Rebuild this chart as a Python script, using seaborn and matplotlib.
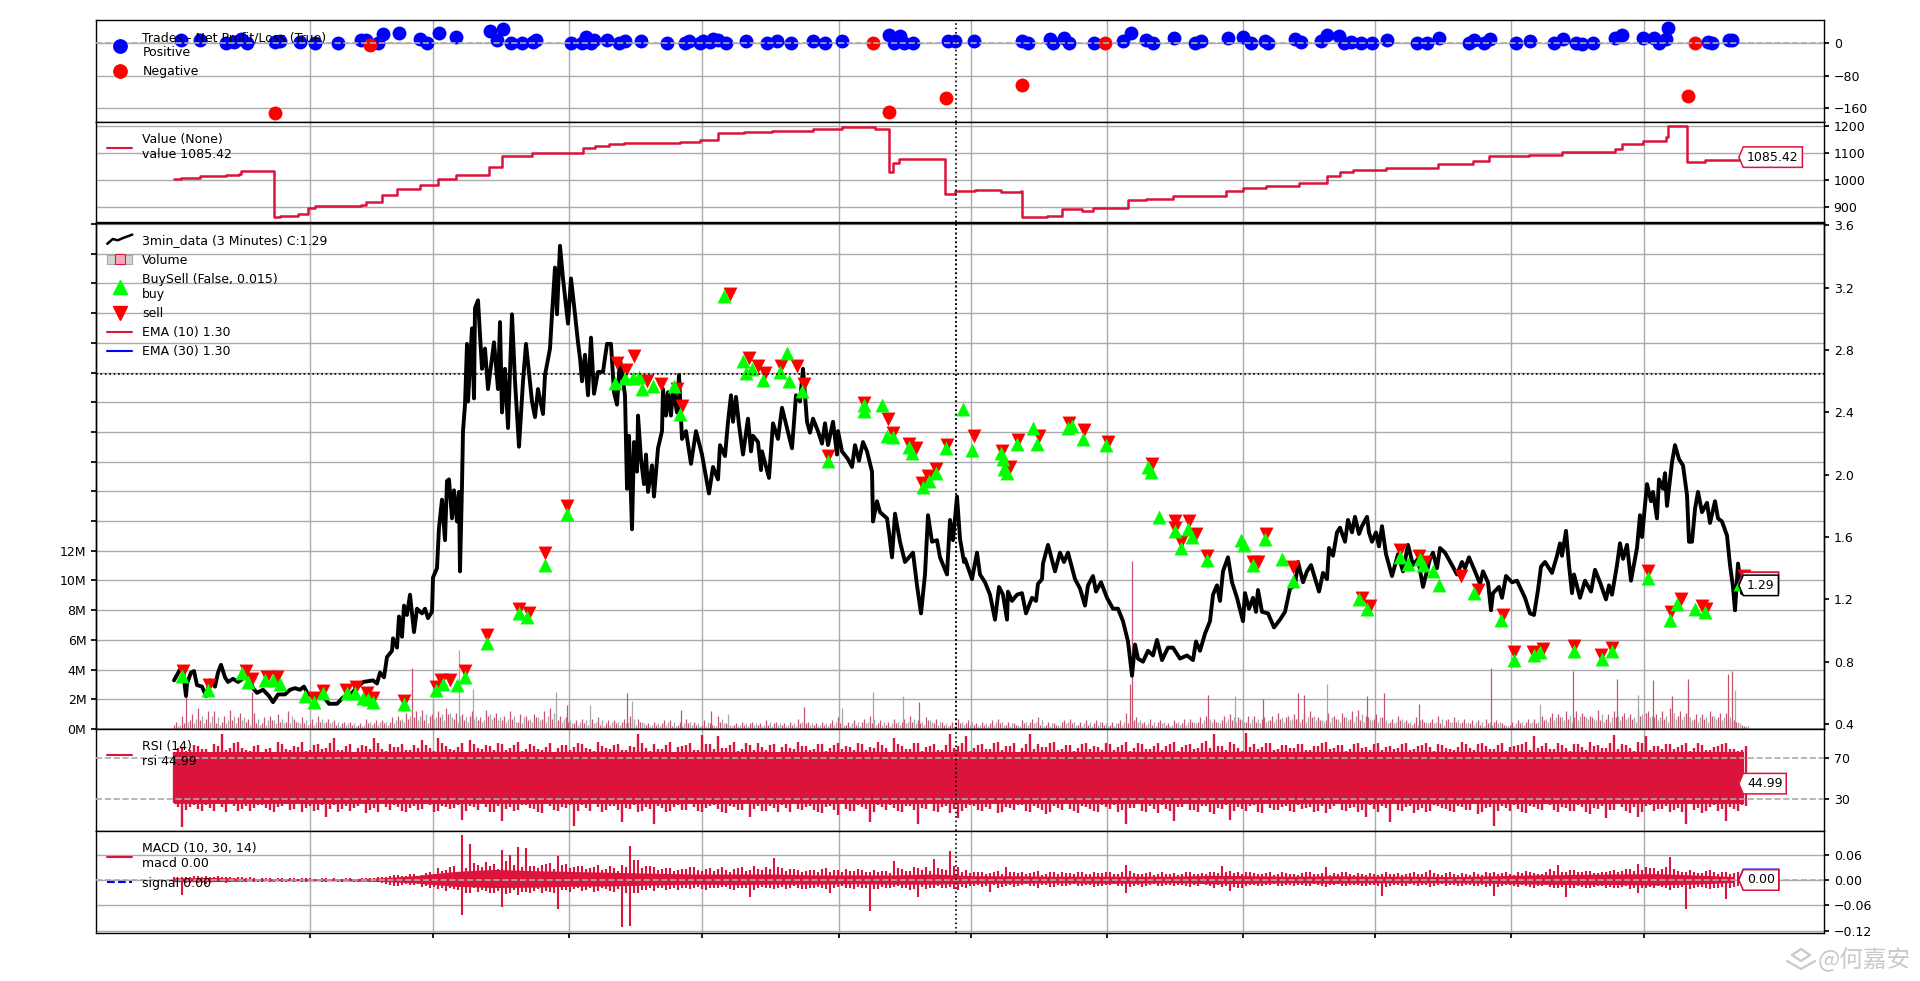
import numpy as np
import matplotlib
matplotlib.use("Agg")
import matplotlib.pyplot as plt
from matplotlib.lines import Line2D
from matplotlib.patches import Patch
from matplotlib.path import Path
from matplotlib.legend_handler import HandlerLine2D
import seaborn as sns

CRIMSON = "#DC143C"
GRID = "#ababab"

close_bar = [0,6,9,12,13,17,20,23,28,32,36,41,44,47,51,54,59,64,71,76,79,83,89,95,99,104,111,116,121,126,130,134,143,149,155,163,169,178,184,189,199,203,206,210,213,218,219,223,225,228,230,233,236,240,243,248,251,254,258,259,263,265,268,271,273,275,278,280,283,285,286,288,289,291,293,294,298,300,301,304,308,311,314,320,324,326,328,331,334,338,341,345,349,352,358,361,364,369,371,376,378,381,383,386,389,394,
397,401,404,406,408,411,414,417,420,424,429,433,437,440,443,446,451,453,455,458,460,463,464,467,470,472,474,478,480,484,488,489,492,494,497,499,503,505,508,512,517,522,528,531,535,539,544,546,551,554,557,559,562,565,569,574,577,579,584,587,588,595,599,604,608,613,618,622,626,629,633,636,639,644,648,651,654,659,663,664,668,674,678,681,685,689,693,698,699,703,706,713,715,718,721,726,731,739,743,747,751,754,758,763,766,773,776,779,783,786,790,
791,798,803,806,811,816,821,825,829,833,834,838,843,848,852,858,862,864,868,869,874,881,886,890,894,901,906,911,914,919,922,927,933,939,944,949,954,958,961,964,969,974,979,983,988,994,999,1006,1013,1019,1022,1026,1031,1036,1039,1043,1046,1049,1054,1058,1063,1069,1071,1075,1079,1082,1084,1088,1094,1100,1106,1111,1116,1121,1124,1129,1133,1137,1145,1149,1153,1155,1159,1163,1166,1171,1174,1178,1181,1185,
1188,1193,1195,1198,1202,1205,1208,1212,1218,1224,1229,1234,1239,1244,1249,1256,1259,1263,1266,1271,1278,1283,1288,1291,1295,1301,1306,1309,1314,1317,1319,1325,1328,1332,1338,1343,1351,1356,1360,1364,1367,1371,1378,1383,1386,1388,1392,1395,1398,1400,1406,1411,1417,1421,1426,1432,1435,1438,1443,1446,1449,1453,1457,1463,1466,1468,1473,1477,1479,1483,1485,1489,1491,1493,1498,1501,1505,1509,1513,1515,1518,1521,1524,1528,1533,1536,1541,1544,1548,1553,1556,1559,1561,1564,1568]
close_price = [.68,.75,.74,.58,.66,.73,.74,.65,.64,.58,.68,.64,.73,.78,.70,.67,.69,.67,.70,.68,.63,.60,.62,.58,.54,.59,.59,.62,.63,.62,.64,.59,.58,.58,.53,.53,.57,.60,.64,.67,.68,.66,.73,.70,.83,.87,.95,.89,1.09,.96,1.16,1.10,1.23,.99,1.14,1.11,1.14,1.08,1.12,1.34,1.40,1.66,1.84,1.58,1.96,1.97,1.72,1.90,1.70,1.89,1.38,1.93,2.28,2.45,2.84,2.47,2.94,2.49,3.07,3.12,2.68,2.81,2.55,2.85,2.55,2.98,2.40,2.68,2.30,3.03,2.60,2.18,2.60,2.84,2.47,2.37,2.55,2.39,2.64,2.81,3.03,3.33,3.03,3.47,3.26,2.97,
3.26,3.03,2.85,2.75,2.60,2.77,2.51,2.88,2.52,2.66,2.66,2.84,2.84,2.53,2.45,2.74,2.51,1.91,2.25,1.65,2.21,2.02,2.38,2.10,1.94,2.13,1.89,2.06,1.86,2.17,2.28,2.55,2.38,2.53,2.38,2.55,2.40,2.64,2.23,2.28,2.07,2.28,2.13,2.02,1.88,2.05,1.97,2.19,2.12,2.34,2.51,2.34,2.50,2.32,2.13,2.36,2.15,2.25,2.21,2.03,2.15,1.98,2.33,2.23,2.43,2.30,2.17,2.51,2.47,2.68,2.34,2.27,2.36,2.28,2.20,2.33,2.19,2.34,2.13,2.28,2.15,2.10,2.05,2.19,2.09,2.21,2.15,2.02,1.70,1.83,1.76,1.72,1.63,1.47,1.75,1.57,1.44,1.50,1.29,1.11,1.36,1.74,1.57,1.58,1.47,1.36,1.71,1.58,1.86,1.59,1.44,
1.46,1.33,1.50,1.36,1.31,1.23,1.07,1.28,1.23,1.07,1.25,1.19,1.23,1.24,1.11,1.21,1.19,1.30,1.33,1.43,1.55,1.38,1.50,1.44,1.50,1.33,1.27,1.16,1.29,1.35,1.25,1.31,1.21,1.14,1.14,1.06,.93,.71,.91,.82,.80,.87,.84,.94,.81,.89,.89,.82,.84,.81,.93,.87,.98,1.06,1.23,1.29,1.19,1.38,1.47,1.31,1.21,1.06,1.24,1.14,1.21,1.12,1.26,1.12,1.11,1.02,1.07,1.12,1.27,1.29,1.44,1.31,1.38,1.42,1.25,1.37,1.33,1.53,1.48,1.63,1.66,1.57,1.71,1.63,1.73,1.62,
1.67,1.73,1.63,1.57,1.63,1.54,1.67,1.49,1.35,1.49,1.38,1.55,1.42,1.46,1.28,1.46,1.50,1.40,1.53,1.50,1.42,1.36,1.44,1.40,1.47,1.38,1.30,1.38,1.31,1.13,1.24,1.28,1.21,1.35,1.31,1.32,1.21,1.11,1.10,1.26,1.41,1.44,1.37,1.48,1.56,1.48,1.64,1.42,1.24,1.36,1.21,1.32,1.25,1.39,1.31,1.20,1.29,1.23,1.42,1.56,1.46,1.55,1.32,1.53,1.74,1.60,1.94,1.83,1.89,1.72,1.97,1.91,2.01,1.80,2.08,2.19,2.10,2.06,1.87,1.57,1.57,1.78,1.89,1.76,1.82,1.69,1.83,1.72,1.70,1.61,1.42,1.28,1.13,1.43,1.24]

buy_bar = [8,34,68,74,91,99,106,131,140,149,173,181,189,194,199,230,262,269,283,291,313,345,353,371,393,550,441,451,459,465,468,479,500,506,569,572,578,589,606,613,615,628,654,690,690,708,713,719,735,738,749,755,762,772,789,798,827,829,830,833,843,859,863,894,898,909,932,974,977,985,1001,1014,1018,1007,1033,1067,1070,1079,1091,1108,1119,1185,1193,1226,1234,1246,1249,1259,1265,1300,1327,1340,1360,1366,1400,1428,1438,1474,1496,1503,1521,1531,1566]
buy_price = [.71,.62,.73,.67,.68,.68,.66,.58,.54,.60,.60,.60,.57,.56,.54,.53,.62,.66,.65,.70,.92,1.11,1.09,1.42,1.75,3.15,2.59,2.62,2.62,2.63,2.55,2.57,2.57,2.39,2.73,2.65,2.68,2.61,2.66,2.78,2.60,2.54,2.09,2.45,2.41,2.45,2.25,2.24,2.18,2.14,1.92,1.96,2.01,2.17,2.42,2.16,2.14,2.10,2.04,2.01,2.20,2.30,2.20,2.30,2.31,2.23,2.19,2.05,2.02,1.73,1.64,1.65,1.60,1.53,1.45,1.58,1.55,1.42,1.59,1.46,1.32,1.20,1.14,1.47,1.43,1.46,1.42,1.38,1.29,1.24,1.07,.81,.84,.86,.87,.82,.87,1.34,1.07,1.17,1.14,1.12,1.30]
sell_bar = [9,35,72,78,93,103,140,149,172,182,193,199,230,262,267,276,291,313,345,355,371,393,556,443,452,460,473,487,503,508,575,584,591,607,623,630,654,690,714,719,735,742,748,754,762,773,800,828,836,844,865,895,910,934,978,1001,1001,1015,1022,1007,1033,1079,1084,1092,1119,1188,1196,1226,1245,1251,1287,1304,1329,1340,1359,1369,1400,1427,1438,1474,1497,1507,1528,1532,1570]
sell_price = [.74,.65,.74,.69,.70,.70,.57,.61,.62,.64,.60,.57,.55,.64,.68,.68,.74,.97,1.14,1.11,1.50,1.80,3.16,2.72,2.67,2.76,2.60,2.58,2.55,2.44,2.75,2.70,2.65,2.70,2.70,2.58,2.12,2.46,2.36,2.27,2.20,2.17,1.95,1.99,2.04,2.19,2.25,2.15,2.05,2.22,2.25,2.33,2.29,2.21,2.07,1.70,1.66,1.70,1.62,1.57,1.48,1.44,1.44,1.62,1.41,1.21,1.16,1.52,1.48,1.44,1.35,1.26,1.10,.86,.86,.88,.90,.84,.89,1.38,1.12,1.20,1.16,1.14,1.35]

win_bar = [7,26,52,60,67,73,101,106,126,141,164,187,192,204,209,225,246,253,265,282,316,329,323,337,348,359,362,397,408,412,417,420,433,445,451,467,493,511,515,526,529,536,539,544,552,572,593,603,617,639,651,668,715,726,720,730,739,774,781,
800,848,854,876,879,890,895,920,949,957,972,979,1000,1021,1027,1054,1069,1077,1091,1094,1121,1127,1147,1153,1165,1170,1177,1187,1198,1213,1243,1253,1265,1295,1300,1310,1316,1342,1356,1380,1389,1402,1408,1419,1441,1448,1469,1480,1485,1492,1494,1534,1538,1555,1558]
win_pnl = [7,7,1,3,10,1,3,5,3,1,1,7,7,-1,21,24,10,1,24,14,30,34,7,1,1,3,7,1,1,16,1,7,7,1,5,5,1,1,5,1,5,3,10,7,1,5,1,5,1,5,-1,5,20,18,1,1,1,6,6,
5,5,1,10,-1,12,1,1,5,24,7,1,12,1,5,13,15,1,5,1,10,3,5,20,18,1,3,1,1,7,1,1,12,1,7,1,10,1,5,1,10,-1,-2,1,12,20,12,12,-1,10,36,3,1,7,7]
loss_bar = [101,196,699,715,772,848,931,1514,1521]
loss_pnl = [-173,-5,-1,-169,-134,-104,-1,-130,-1]

value_bar = [0,7,26,52,65,67,93,100,106,124,134,141,187,192,208,223,246,264,282,315,328,358,409,421,435,450,506,526,544,570,598,639,668,701,715,719,725,771,781,
786,801,827,847,848,873,888,908,919,954,972,999,1052,1069,1092,1125,1153,1166,1179,1212,1264,1299,1315,1355,1388,1441,1448,1469,1481,1492,1494,1513,1531,1554,1566,1570]
value_total = [1003,1009,1017,1021,1024,1035,1033,864,867,875,896,905,908,920,945,969,982,1006,1021,1048,1090,1102,1119,1126,1132,1138,1142,1148,1174,1179,1183,1190,1196,1191,1031,1062,1080,950,960,
961,964,957,960,864,867,893,887,897,926,932,942,961,973,979,990,1016,1031,1037,1044,1059,1071,1089,1094,1105,1116,1134,1144,1145,1158,1202,1068,1073,1076,1089,1085]

vol_red_m = [.3,.9,.6,1.4,.7,1.2,.5,1.3,.8,.5,1.1,.4,.9,1.0,.5,.7,.8,.4,.9,.5,
.6,.4,.5,.3,.7,.4,.6,.5,.9,1.1,.8,1.3,.9,1.2,1.4,.7,1.0,.9,.6,1.3,
.8,.6,1.2,.5,.9,1.0,.7,1.4,.6,.8,.4,.7,.5,.8,.4,.6,.5,.9,.7,.3,
.5,.4,.6,.3,.7,.5,.3,.4,.9,.4,.3,.5,.4,.3,.6,.4,.3,.5,.7,.4,
.3,.5,.4,.8,.3,.6,.5,.9,.4,.3,.7,.5,.9,.6,.8,.4,.5,.3,.7,.4,
.3,.5,.4,.7,.3,.4,.6,.5,.8,.3,.4,.5,.7,.3,.6,.4,.5,.3,.4,1.1,
.6,.4,.7,.5,.3,.6,.4,.7,.5,.9,.7,.6,1.0,.8,.5,.9,.7,.6,1.1,.8,
1.0,.7,1.2,.8,.6,.9,1.1,.7,1.3,.9,.7,.8,.5,.9,.6,.4,.7,.5,.9,.6,
.8,.5,.4,.6,.7,.5,.4,.3,.6,.5,.7,.9,.8,1.0,1.2,.8,1.1,.9,1.3,.7,
1.2,.9,1.0,1.3,1.1,.8,1.2,1.4,.9,1.1,.7,1.0,1.2,.8,1.1,.6,.3]
vol_grey_m = [.2,.6,.4,.9,.5,.8,.4,.9,.6,.3,.7,.3,.6,.7,.4,.5,.6,.3,.7,.4,
.5,.3,.4,.2,.5,.3,.5,.4,.7,.9,.6,1.0,.7,1.0,1.1,.5,.8,.7,.5,1.0,
.6,.5,.9,.4,.7,.8,.5,1.1,.5,.6,.3,.6,.4,.6,.3,.5,.4,.7,.5,.2,
.4,.3,.5,.2,.5,.4,.2,.3,.7,.3,.2,.4,.3,.2,.5,.3,.2,.4,.5,.3,
.2,.4,.3,.6,.2,.5,.4,.7,.3,.2,.5,.4,.7,.5,.6,.3,.4,.2,.5,.3,
.2,.4,.3,.5,.2,.3,.5,.4,.6,.2,.3,.4,.5,.2,.5,.3,.4,.2,.3,.8,
.5,.3,.5,.4,.2,.5,.3,.5,.4,.7,.5,.5,.8,.6,.4,.7,.5,.5,.8,.6,
.8,.5,.9,.6,.5,.7,.8,.5,1.0,.7,.5,.6,.4,.7,.5,.3,.5,.4,.7,.5,
.6,.4,.3,.5,.5,.4,.3,.2,.5,.4,.5,.7,.6,.8,.9,.6,.8,.7,1.0,.5,
.9,.7,.8,1.0,.8,.6,.9,1.1,.7,.8,.5,.8,.9,.6,.8,.5,.2]
vol_red2_m = [.5,.4,1.0,.6,1.2,.4,.9,.6,1.1,.7,.4,.8,.6,.5,1.2,.5,.4,.7,.5,.7,
.3,.5,.3,.4,.4,.6,.4,.8,.6,.7,1.2,.6,1.0,.8,1.0,1.1,.6,1.2,.8,.9,
1.1,.9,.7,1.0,.6,.8,1.2,.7,.9,.5,.6,.4,.7,.3,.6,.4,.7,.4,.5,.4,
.3,.6,.2,.5,.4,.3,.6,.3,.5,.3,.4,.3,.5,.4,.3,.5,.4,.3,.4,.5,
.4,.3,.6,.4,.5,.3,.7,.4,.6,.5,.4,.7,.5,.4,.6,.7,.3,.5,.4,.6,
.4,.3,.6,.4,.5,.3,.4,.7,.3,.5,.3,.6,.4,.5,.3,.6,.3,.5,.6,.4,
.8,.5,.3,.6,.4,.4,.7,.5,.8,.6,.5,.9,.6,.7,.9,.5,.8,.9,.7,.9,
.7,1.0,.8,.6,1.1,.7,.8,1.2,.6,.8,1.0,.5,.7,.6,.4,.8,.5,.7,.4,.7,
.5,.7,.6,.3,.4,.6,.3,.5,.4,.7,.4,.6,1.1,.8,.7,1.2,.9,.8,.6,1.0,
.8,1.1,.7,.9,1.2,1.0,.7,.9,1.2,.8,1.0,.7,.9,1.1,.7,.5,.2]
vol_grey2_m = [.3,.5,.7,.4,.9,.3,.6,.4,.8,.5,.3,.6,.4,.4,.9,.4,.3,.5,.4,.5,
.2,.4,.2,.3,.3,.5,.3,.6,.5,.5,.9,.4,.8,.6,.8,.9,.5,.9,.6,.7,
.8,.7,.5,.8,.5,.6,.9,.5,.7,.4,.5,.3,.5,.2,.5,.3,.5,.3,.4,.3,
.2,.5,.2,.4,.3,.2,.5,.2,.4,.2,.3,.2,.4,.3,.2,.4,.3,.2,.3,.4,
.3,.2,.5,.3,.4,.2,.5,.3,.5,.4,.3,.5,.4,.3,.5,.5,.2,.4,.3,.5,
.3,.2,.5,.3,.4,.2,.3,.5,.2,.4,.2,.5,.3,.4,.2,.5,.2,.4,.5,.3,
.6,.4,.2,.5,.3,.3,.5,.4,.6,.5,.4,.7,.5,.5,.7,.4,.6,.7,.5,.7,
.5,.8,.6,.5,.8,.5,.6,.9,.5,.6,.8,.4,.5,.5,.3,.6,.4,.5,.3,.5,
.4,.5,.5,.2,.3,.5,.2,.4,.3,.5,.3,.5,.8,.6,.5,.9,.7,.6,.5,.8,
.6,.8,.5,.7,.9,.8,.5,.7,.9,.6,.8,.5,.7,.8,.5,.4,.2]
vol_peak_red_bar = [12,78,238,393,453,507,537,630,745,956,958,1034,1089,1124,1130,1193,1210,1245,1317,1399,1443,1479,1498,1514,1554,1558]
vol_peak_red = [2.2,2.5,4.1,1.6,2.4,1.3,1.2,1.5,1.8,3.0,11.3,2.3,2.0,2.4,2.3,2.2,2.4,1.7,4.1,3.9,3.4,3.3,2.2,3.4,3.7,3.9]
vol_peak_grey_bar = [259,285,299,382,416,458,554,668,699,729,1061,1153,1366,1464,1514,1561]
vol_peak_grey = [2.1,5.3,2.7,2.5,1.6,1.9,1.0,1.4,2.5,2.2,2.2,3.0,1.7,2.3,2.6,2.6]

rsi_hi = [76,80,78,82,79,84,93,80,86,78,82,76,80,86,79,82,86,78,84,80,
90,78,84,80,82,90,79,84,81,78,83,88,80,90,82,78,85,88,80,83,
78,84,80,86,79,82,78,85,80,83,81,84,79,86,80,83,78,82,93,80,
84,79,86,81,83,78,92,84,91,80,86,79,83,85,78,84,81,80,86,82,
79,84,80,85,82,78,84,81,86,80,90,82,79,85,81,84,78,93,82,91,
80,84,79,86,82,85,80,93,84,81,86,79,83,80,85,82,78,84,81,86,
80,84,79,85,82,86,81,84,80,87,93,82,86,80,94,84,81,85,79,83,
80,84,78,82,86,80,83,79,85,81,84,78,82,80,85,79,83,81,84,80,
78,86,80,84,82,79,85,81,83,86,91,82,79,85,80,84,81,86,83,80,
92,84,80,86,91,82,79,84,81,85,80,83,78,82,85,79,78]
rsi_lo = [26,3,22,20,24,18,22,25,18,23,21,24,19,22,25,20,17,23,19,12,
24,20,18,23,16,21,25,19,22,17,23,20,24,18,22,21,10,23,19,22,
17,9,22,19,24,20,16,23,18,21,4,24,18,22,19,23,8,20,17,22,
6,21,18,24,19,22,17,23,20,16,22,19,12,23,18,21,24,17,20,22,
19,16,23,14,20,18,22,8,24,19,21,17,23,6,20,18,22,16,11,21,
23,18,20,16,22,19,24,17,21,15,23,19,20,16,22,18,24,20,17,6,
21,18,23,16,20,9,22,19,17,23,15,20,10,22,18,24,16,21,19,23,
17,20,22,18,16,23,19,21,17,12,20,23,8,19,22,16,21,18,23,20,
17,22,19,15,21,4,23,18,20,16,22,19,24,17,21,18,22,15,20,11,
19,22,16,12,23,18,20,17,21,6,19,16,22,18,9,20,24]
rsi_mid_hi = [80,77,83,79,76,82,78,85,80,77,83,79,76,84,78,81,77,83,79,85,
78,82,76,83,79,85,77,81,84,78,80,83,77,85,79,81,76,84,79,82,
85,78,83,77,84,79,81,76,83,78,85,80,77,82,79,84,78,81,85,77,
79,83,76,82,85,78,84,79,80,83,77,85,78,81,83,76,84,79,82,78,
84,77,83,79,81,85,78,80,83,76,84,79,85,77,82,78,83,80,85,77,
83,79,85,78,82,76,84,79,81,85,78,83,77,84,79,81,85,78,83,77,
85,79,82,78,84,77,83,79,85,80,82,78,84,77,81,79,85,78,83,80,
84,78,82,85,79,83,77,84,80,78,85,81,79,84,78,82,85,77,83,79,
81,84,78,85,79,83,77,82,84,78,80,85,79,83,77,84,78,82,80,85,
79,83,77,85,78,82,84,79,83,77,85,78,81,84,79,77,82]
rsi_mid_lo = [22,19,24,18,21,25,17,23,20,18,24,21,17,23,19,25,21,18,24,20,
17,23,21,25,19,17,22,24,18,21,19,25,17,23,20,24,18,22,25,17,
23,20,18,24,21,17,25,19,22,24,18,21,25,17,23,19,21,24,18,20,
23,17,22,19,25,18,21,24,17,23,19,25,20,18,23,17,21,25,19,23,
17,22,19,25,18,24,20,17,22,24,18,23,19,21,25,17,23,20,18,24,
19,22,25,17,21,24,18,23,19,17,21,25,18,23,20,17,22,24,19,21,
25,17,20,24,18,22,25,19,23,17,21,24,18,20,23,17,25,19,22,18,
24,21,17,23,20,25,18,22,19,24,17,21,25,18,23,19,17,24,21,18,
23,19,25,17,22,18,21,24,17,23,20,25,19,22,18,24,17,21,23,19,
25,18,22,17,24,20,23,19,17,25,21,18,24,20,22,18,23]
rsi_band = [25, 76]

macd_hi_milli = [6,8,7,9,10,8,7,6,8,5,4,5,4,5,3,4,5,4,3,4,
4,3,4,3,5,5,8,10,12,9,14,12,18,28,24,32,107,85,36,42,
38,72,60,78,76,32,35,40,56,38,30,32,28,36,25,28,35,80,48,32,
30,26,28,24,26,30,22,28,25,24,27,30,24,26,30,52,28,25,24,22,
24,26,20,23,25,22,24,20,18,22,44,25,22,28,30,50,26,68,30,24,
18,20,16,22,30,18,20,16,22,14,18,20,16,18,15,20,16,18,14,35,
16,14,18,15,13,16,14,18,15,13,20,32,22,18,20,16,14,18,15,16,
14,16,18,14,30,16,18,14,16,12,15,14,13,16,14,18,13,24,14,16,
14,16,12,15,20,18,16,14,18,22,16,15,25,35,20,24,18,22,16,20,
24,22,26,38,30,28,26,54,22,18,20,16,24,14,18,16,10]
macd_lo_milli = [-6,-35,-8,-7,-9,-6,-5,-6,-5,-4,-4,-5,-4,-3,-4,-5,-4,-3,-3,-4,
-3,-5,-3,-4,-3,-5,-8,-12,-14,-10,-12,-16,-18,-22,-25,-22,-82,-30,-28,-25,
-32,-65,-30,-35,-28,-26,-30,-28,-69,-24,-22,-26,-20,-25,-22,-28,-111,-110,-30,-24,
-26,-20,-22,-24,-18,-20,-22,-18,-20,-16,-24,-18,-41,-20,-18,-22,-16,-20,-18,-22,
-18,-20,-30,-16,-18,-22,-20,-74,-22,-18,-16,-20,-24,-40,-22,-18,-20,-16,-24,-18,
-14,-16,-28,-18,-14,-16,-12,-15,-18,-13,-16,-14,-12,-15,-13,-16,-14,-12,-15,-30,
-14,-16,-12,-15,-13,-14,-12,-16,-14,-12,-18,-16,-27,-20,-14,-12,-15,-13,-14,-12,
-14,-12,-15,-13,-16,-12,-14,-13,-12,-15,-13,-38,-14,-12,-15,-12,-13,-16,-12,-14,
-12,-15,-13,-14,-16,-38,-14,-12,-16,-15,-18,-14,-16,-20,-41,-18,-16,-20,-15,-18,
-20,-16,-22,-30,-18,-20,-16,-24,-18,-69,-20,-16,-22,-18,-44,-16,-12]
macd_mid_hi_milli = [5,6,9,7,6,9,8,5,6,6,3,4,3,4,4,3,4,3,4,3,
3,4,3,4,4,6,7,12,9,13,10,16,14,22,30,20,28,40,30,34,
26,45,36,30,34,28,38,26,36,28,34,26,30,24,32,22,30,48,28,34,
24,28,22,26,30,24,26,22,30,20,28,22,32,24,26,30,22,26,20,24,
20,28,24,18,22,26,18,24,22,16,28,22,30,24,22,28,24,34,20,16,
20,14,18,15,20,16,14,20,12,18,15,16,14,20,13,16,18,14,20,22,
13,16,12,18,14,12,18,13,16,20,16,20,16,14,18,13,16,12,18,14,
12,18,14,16,12,14,20,12,14,16,12,18,14,12,16,14,18,16,12,18,
12,14,18,12,16,14,20,12,16,18,14,20,22,18,24,18,22,16,20,22,
20,26,22,24,28,22,30,26,18,24,16,22,18,20,14,18,8]
macd_mid_lo_milli = [-5,-8,-6,-8,-7,-5,-7,-4,-5,-3,-5,-3,-4,-4,-3,-3,-4,-2,-4,-3,
-4,-3,-4,-3,-4,-6,-9,-14,-11,-13,-10,-14,-16,-18,-20,-24,-30,-20,-24,-30,
-26,-34,-24,-28,-30,-22,-26,-32,-24,-28,-20,-24,-28,-20,-26,-22,-30,-32,-24,-20,
-20,-24,-18,-20,-22,-16,-24,-20,-16,-22,-18,-20,-24,-16,-20,-18,-22,-14,-22,-18,
-16,-22,-18,-14,-20,-16,-18,-22,-16,-20,-14,-18,-22,-16,-20,-14,-18,-22,-16,-14,
-12,-14,-12,-16,-12,-14,-10,-14,-12,-16,-12,-14,-10,-14,-12,-14,-12,-10,-14,-16,
-12,-14,-10,-14,-12,-12,-14,-12,-10,-14,-12,-14,-16,-18,-12,-14,-12,-10,-14,-12,
-12,-14,-10,-14,-12,-10,-14,-12,-14,-12,-14,-16,-12,-14,-10,-14,-12,-14,-10,-12,
-14,-12,-14,-12,-14,-16,-12,-14,-12,-16,-14,-12,-18,-16,-20,-14,-18,-16,-14,-16,
-18,-14,-20,-18,-16,-14,-18,-20,-16,-22,-16,-20,-18,-16,-20,-14,-10]
macd_core_hi_milli = [5,6,3,3,3,4,10,20,25,22,20,18,16,14,14,14,12,12,12,14,10,10,9,9,9,9,11,10,9,10,9,9,8,10,12,13,14,15,12,8]
macd_core_lo_milli = [-4,-4,-2,-2,-2,-3,-7,-15,-18,-17,-15,-14,-12,-10,-11,-10,-10,-9,-10,-10,-8,-8,-7,-8,-8,-7,-9,-8,-7,-8,-7,-7,-7,-8,-10,-11,-11,-12,-10,-6]

month_ticks = [136,259,395,528,665,797,933,1069,1201,1337,1470]
crosshair_bar = 782
crosshair_price = 2.646
last_bar = 1570
last_close = 1.29
last_ema10 = 1.30
last_ema30 = 1.30
last_value = 1085.42
last_rsi = 44.99
last_macd = 0.00

W, H = 1920, 981
sns.set_theme(style="ticks", rc={"font.size": 9, "axes.linewidth": 1.0,
                                 "xtick.labelsize": 9, "ytick.labelsize": 9,
                                 "xtick.color": "black", "ytick.color": "black",
                                 "text.color": "black", "axes.edgecolor": "black",
                                 "grid.color": GRID, "grid.linewidth": 1.0})
fig = plt.figure(figsize=(W / 100, H / 100), dpi=100)
L, R = 96, 1824


def panel(top, bottom):
    return fig.add_axes([L / W, 1 - bottom / H, (R - L) / W, (bottom - top) / H])


ax_tr = panel(20, 121.5)
ax_val = panel(122, 222)
ax_vol = panel(223, 729)
ax_pr = ax_vol.twinx()
ax_rsi = panel(729, 831)
ax_macd = panel(831, 932.5)

for ax in (ax_tr, ax_val, ax_vol, ax_rsi, ax_macd):
    ax.set_xlim(-78, 1650)
    ax.set_xticks(month_ticks)
    ax.set_xticklabels([])
    ax.grid(True, axis="x")
    ax.set_axisbelow(True)
    ax.tick_params(axis="x", bottom=False)
    ax.tick_params(axis="y", length=3.5)
ax_macd.tick_params(axis="x", bottom=True, length=3.5)
ax_pr.set_xlim(-78, 1650)

for ax in (ax_tr, ax_val, ax_rsi, ax_macd):
    ax.yaxis.tick_right()
    ax.grid(True, axis="y")


def pentagon(x0, y0, width, height, mutation_size):
    pad = 0.3 * mutation_size
    a, b = x0 - pad, x0 + width + pad
    c, d = y0 - pad, y0 + height + pad
    verts = [(a, c), (b, c), (b, d), (a, d), (a - 0.35 * mutation_size, (c + d) / 2), (a, c)]
    return Path(verts, closed=True)


def tag(ax, y, text, edge, zorder=20):
    ax.text(last_bar + 3, y, text, ha="left", va="center", fontsize=9, clip_on=False, zorder=zorder,
            bbox=dict(boxstyle=pentagon, fc="white", ec=edge, lw=1.1))


# trades panel
sns.scatterplot(x=win_bar, y=win_pnl, ax=ax_tr, color="blue", s=100, linewidth=0, legend=False, zorder=3)
sns.scatterplot(x=loss_bar, y=loss_pnl, ax=ax_tr, color="red", s=100, linewidth=0, legend=False, zorder=3)
ax_tr.axhline(0, color=GRID, lw=1.2, ls="--", zorder=5)
ax_tr.set_ylim(-193, 56.6)
ax_tr.set_yticks([-160, -80, 0])
ax_tr.legend(handles=[Line2D([], [], ls="", marker="o", ms=9.6, color="blue"),
                      Line2D([], [], ls="", marker="o", ms=9.6, color="red")],
             labels=["Trades - Net Profit/Loss (True)\nPositive", "Negative"],
             loc="upper left", frameon=False, fontsize=9)

# value panel
sns.lineplot(x=value_bar, y=value_total, ax=ax_val, color=CRIMSON, linewidth=1.8, estimator=None,
             sort=False, errorbar=None, drawstyle="steps-post", legend=False)
ax_val.set_ylim(846, 1215)
ax_val.set_yticks([900, 1000, 1100, 1200])
ax_val.legend(handles=[Line2D([], [], color=CRIMSON, lw=1.5)], labels=["Value (None)\nvalue 1085.42"],
              loc="upper left", frameon=False, fontsize=9)
tag(ax_val, last_value, f"{last_value:.2f}", CRIMSON)

# volume
vol_step = 8
vol_x = np.arange(len(vol_red_m)) * vol_step
for offset, series, colour in ((4, vol_grey_m, "#a8a8a8"), (6, vol_grey2_m, "#a8a8a8"),
                               (0, vol_red_m, "#c6566f"), (2, vol_red2_m, "#c6566f")):
    ax_vol.vlines(vol_x + offset, 0, np.array(series) * 1e6, colors=colour, lw=0.9)
ax_vol.vlines(vol_peak_grey_bar, 0, np.array(vol_peak_grey) * 1e6, colors="#a8a8a8", lw=0.9)
ax_vol.vlines(vol_peak_red_bar, 0, np.array(vol_peak_red) * 1e6, colors="#c6566f", lw=0.9)
ax_vol.set_ylim(0, 34.07e6)
vol_ticks = np.arange(0, 36, 2)
ax_vol.set_yticks(vol_ticks * 1e6)
ax_vol.set_yticklabels([f"{v}M" if v <= 12 else "" for v in vol_ticks])
ax_vol.grid(True, axis="y")
ax_vol.tick_params(axis="y", left=True, right=False, labelleft=True)

# price
ax_pr.patch.set_alpha(0)
sns.lineplot(x=close_bar, y=close_price, ax=ax_pr, color="black", linewidth=2.8, estimator=None,
             sort=False, errorbar=None, legend=False, zorder=3)
sns.scatterplot(x=sell_bar, y=sell_price, ax=ax_pr, color="red", marker="v", s=100, linewidth=0,
                legend=False, zorder=4)
sns.scatterplot(x=buy_bar, y=buy_price, ax=ax_pr, color="lime", marker="^", s=100, linewidth=0,
                legend=False, zorder=5)
ax_pr.set_ylim(0.368, 3.616)
ax_pr.set_yticks(np.arange(0.4, 3.7, 0.4))
ax_pr.set_yticklabels([f"{t:.1f}" for t in np.arange(0.4, 3.7, 0.4)])
ax_pr.set_ylabel("")
ax_pr.tick_params(axis="y", length=3.5, right=True, labelright=True)
ax_pr.grid(False)
ax_pr.axhline(crosshair_price, color="black", ls=":", lw=1.2, zorder=6)
tag(ax_pr, last_ema30 + 0.008, f"{last_ema30:.2f}", "blue", 18)
tag(ax_pr, last_ema10 + 0.008, f"{last_ema10:.2f}", CRIMSON, 19)
tag(ax_pr, last_close, f"{last_close:.2f}", "black", 20)


class ZigZag(HandlerLine2D):
    def create_artists(self, legend, orig, xd, yd, w, h, fs, trans):
        x = np.array([0, .22, .42, .62, 1.0]) * w - xd
        y = np.array([.05, .6, .45, .7, 1.1]) * h - yd
        ln = Line2D(x, y, color="black", lw=1.8, transform=trans)
        return [ln]


data_handle = Line2D([], [], color="black")
vol_handle = (Patch(fc="#d4d4d4", ec="#a8a8a8", lw=0.8),
              Line2D([], [], ls="", marker="s", ms=6.5, mfc="#f4aab8", mec=CRIMSON, mew=0.8))
ax_pr.legend(handles=[data_handle, vol_handle,
                      Line2D([], [], ls="", marker="^", ms=9.6, color="lime"),
                      Line2D([], [], ls="", marker="v", ms=9.6, color="red"),
                      Line2D([], [], color=CRIMSON, lw=1.5),
                      Line2D([], [], color="blue", lw=1.5)],
             labels=["3min_data (3 Minutes) C:1.29", "Volume", "BuySell (False, 0.015)\nbuy", "sell",
                     "EMA (10) 1.30", "EMA (30) 1.30"],
             loc="upper left", frameon=False, fontsize=9,
             handler_map={data_handle: ZigZag()})

# RSI
rsi_x = np.arange(len(rsi_hi)) * 8
ax_rsi.fill_between([0, last_bar], rsi_band[0], rsi_band[1], color=CRIMSON, lw=0, zorder=2)
ax_rsi.vlines(rsi_x, rsi_lo, rsi_hi, colors=CRIMSON, lw=1.7, zorder=2)
ax_rsi.vlines(rsi_x + 4, rsi_mid_lo, rsi_mid_hi, colors=CRIMSON, lw=1.7, zorder=2)
ax_rsi.set_ylim(-1.2, 98.3)
ax_rsi.set_yticks([30, 70])
ax_rsi.grid(False, axis="y")
ax_rsi.axhline(30, color=GRID, lw=1.2, ls="--", zorder=5)
ax_rsi.axhline(70, color=GRID, lw=1.2, ls="--", zorder=5)
ax_rsi.legend(handles=[Line2D([], [], color=CRIMSON, lw=1.5)], labels=["RSI (14)\nrsi 44.99"],
              loc="upper left", frameon=False, fontsize=9).set_zorder(30)
tag(ax_rsi, last_rsi, f"{last_rsi:.2f}", CRIMSON)

# MACD
macd_x = np.arange(len(macd_hi_milli)) * 8
core_x = np.arange(len(macd_core_hi_milli)) * 40
ax_macd.fill_between(core_x, np.array(macd_core_lo_milli) / 1000, np.array(macd_core_hi_milli) / 1000,
                     color=CRIMSON, lw=0, zorder=2)
ax_macd.vlines(macd_x, np.array(macd_lo_milli) / 1000, np.array(macd_hi_milli) / 1000,
               colors=CRIMSON, lw=1.5, zorder=2)
ax_macd.vlines(macd_x + 4, np.array(macd_mid_lo_milli) / 1000, np.array(macd_mid_hi_milli) / 1000,
               colors=CRIMSON, lw=1.5, zorder=2)
ax_macd.set_ylim(-0.1245, 0.116)
ax_macd.set_yticks([-0.12, -0.06, 0, 0.06])
ax_macd.set_yticklabels(["\u22120.12", "\u22120.06", "0.00", "0.06"])
ax_macd.axhline(0, color=GRID, lw=1.2, ls="--", zorder=5)
ax_macd.legend(handles=[Line2D([], [], color=CRIMSON, lw=1.5), Line2D([], [], color="blue", lw=1.5, ls="--")],
               labels=["MACD (10, 30, 14)\nmacd 0.00", "signal 0.00"],
               loc="upper left", frameon=False, fontsize=9).set_zorder(30)
tag(ax_macd, last_macd + 0.001, f"{last_macd:.2f}", "blue", 19)
tag(ax_macd, last_macd, f"{last_macd:.2f}", CRIMSON, 20)

# crosshair
for ax in (ax_tr, ax_val, ax_vol, ax_rsi, ax_macd):
    ax.axvline(crosshair_bar, color="black", ls=":", lw=1.2, zorder=6)
ax_pr.axvline(crosshair_bar, color="black", ls=":", lw=1.2, zorder=6)

# watermark
WM = "#c9c9c9"
fig.text(1818 / W, 1 - 959 / H, "@何嘉安", fontsize=17, color=WM, va="center", ha="left",
         family=["Noto Sans CJK SC", "DejaVu Sans"])
for xs, ys in (([1787, 1801, 1815], [961, 969, 961]),
               ([1792, 1801, 1810, 1801, 1792], [955, 949, 955, 961, 955])):
    fig.add_artist(Line2D(np.array(xs) / W, 1 - np.array(ys) / H, color=WM, lw=1.6,
                          transform=fig.transFigure))

fig.savefig("out.png", dpi=100)
